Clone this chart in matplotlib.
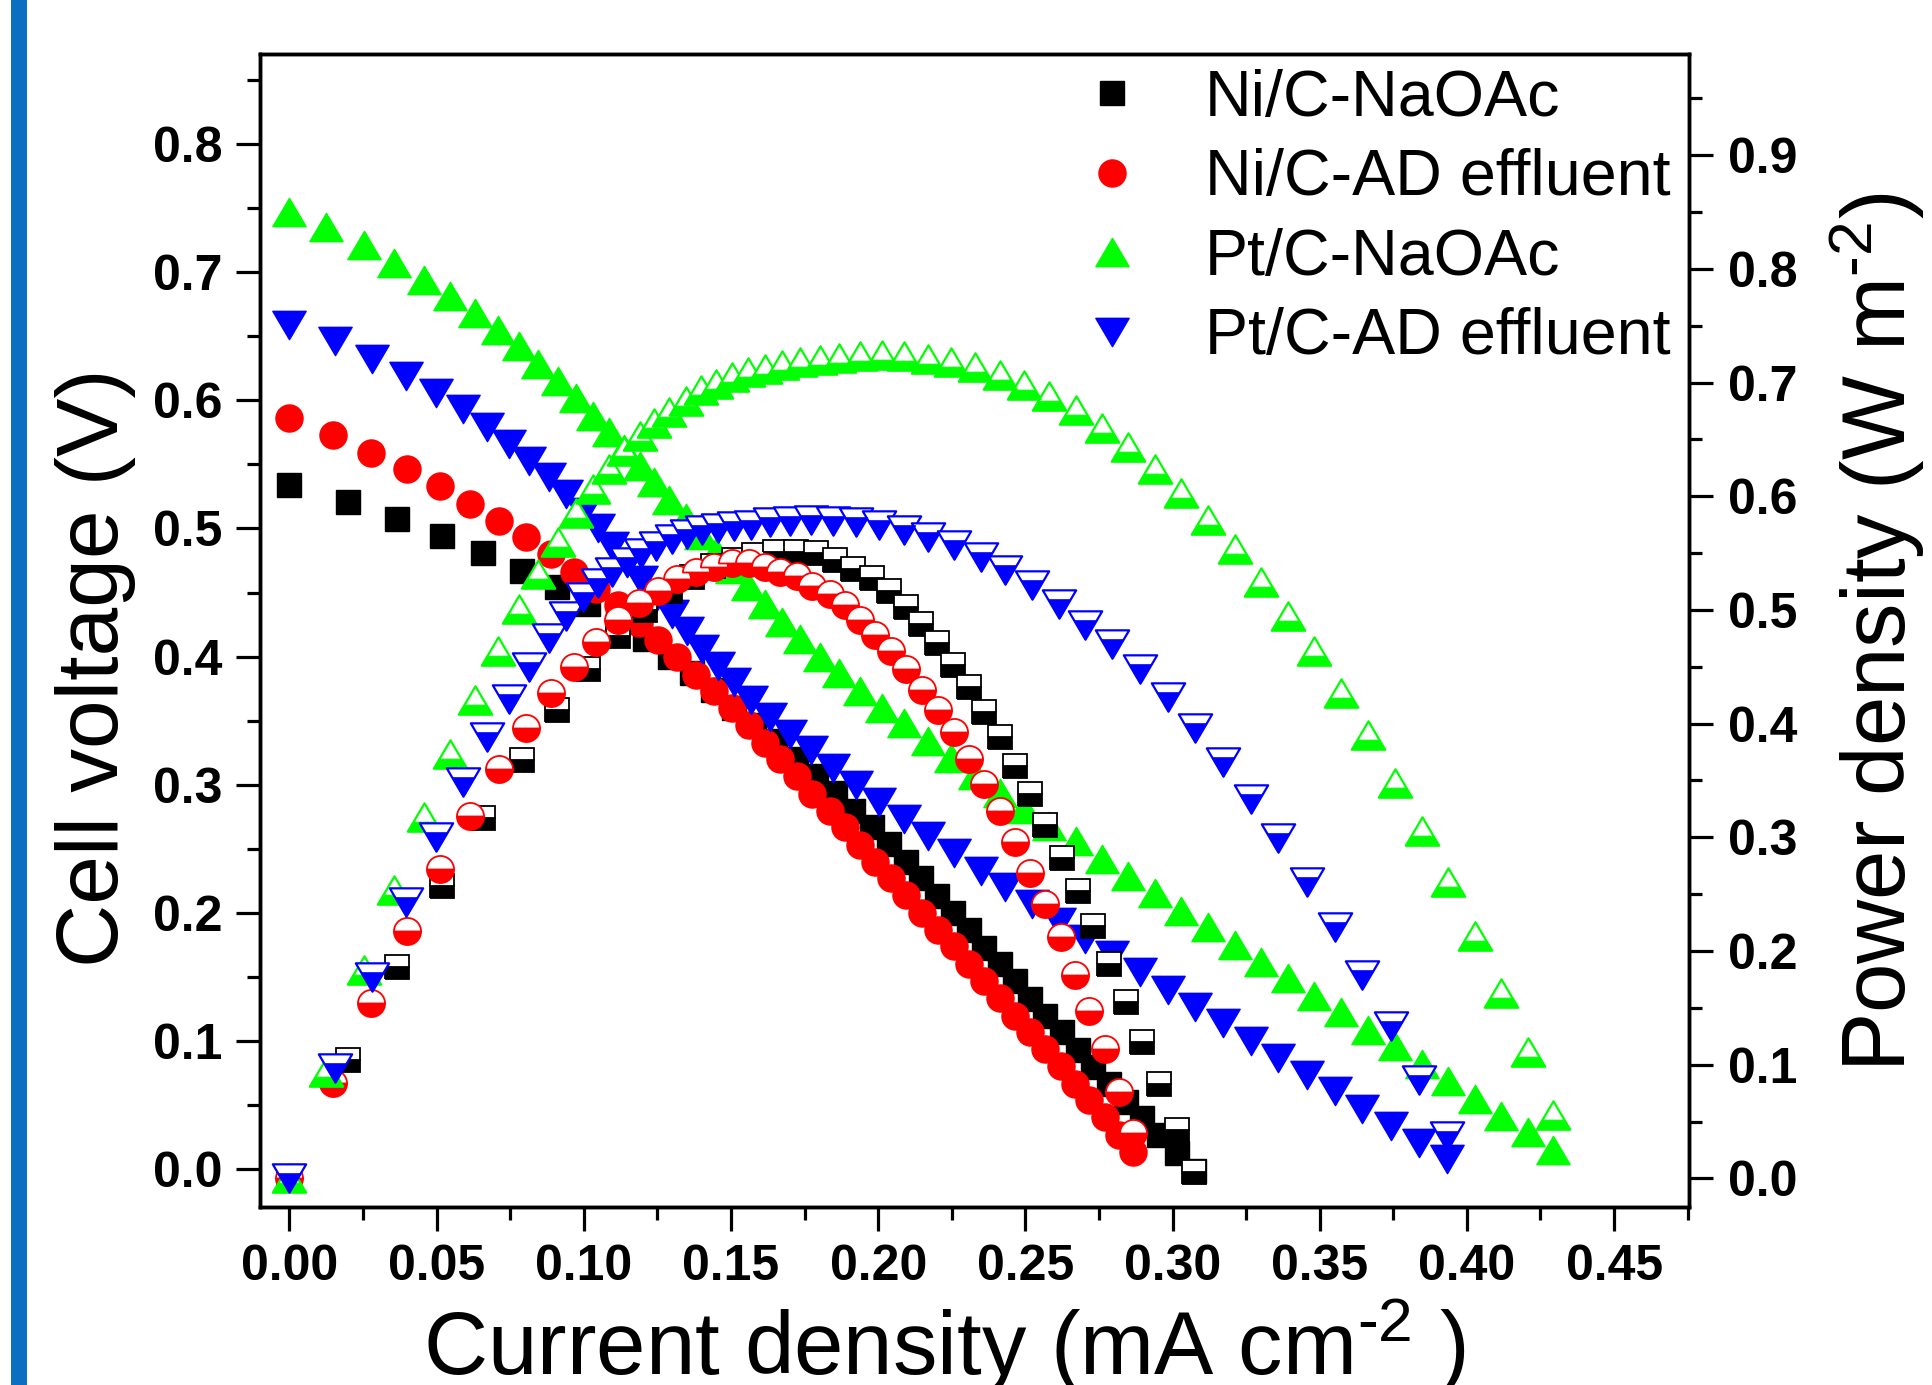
import matplotlib
matplotlib.use('Agg')
import matplotlib.pyplot as plt
from matplotlib.path import Path
from matplotlib.patches import Rectangle
from matplotlib.ticker import MultipleLocator, FormatStrFormatter

plt.rcParams['font.family'] = ['Liberation Sans', 'DejaVu Sans']
plt.rcParams['font.weight'] = 'normal'
plt.rcParams['mathtext.fontset'] = 'custom'
plt.rcParams['mathtext.rm'] = 'Liberation Sans'
plt.rcParams['mathtext.it'] = 'Liberation Sans:italic'
plt.rcParams['mathtext.bf'] = 'Liberation Sans:bold'

# ---------------- data ----------------
labels = ['Ni/C-NaOAc', 'Ni/C-AD effluent', 'Pt/C-NaOAc', 'Pt/C-AD effluent']
colors = ['#000000', '#ff0000', '#00ff00', '#0000ff']

# Ni/C-NaOAc
x_ni_na = [0.0000, 0.0199, 0.0367, 0.0520, 0.0659, 0.0789, 0.0908, 0.1016, 0.1116, 0.1207,
           0.1292, 0.1368, 0.1440, 0.1510, 0.1580, 0.1650, 0.1720, 0.1790, 0.1852, 0.1913,
           0.1978, 0.2036, 0.2095, 0.2147, 0.2199, 0.2253, 0.2309, 0.2361, 0.2413, 0.2465,
           0.2516, 0.2568, 0.2624, 0.2679, 0.2731, 0.2785, 0.2841, 0.2897, 0.2955, 0.3016, 0.3074]
v_ni_na = [0.534, 0.521, 0.507, 0.494, 0.481, 0.467, 0.454, 0.441, 0.427, 0.414,
           0.400, 0.387, 0.374, 0.360, 0.347, 0.334, 0.320, 0.307, 0.294, 0.280,
           0.267, 0.254, 0.240, 0.227, 0.213, 0.200, 0.187, 0.173, 0.160, 0.147,
           0.133, 0.120, 0.107, 0.093, 0.080, 0.067, 0.053, 0.040, 0.027, 0.013, -0.001]
p_ni_na = [0.000, 0.104, 0.186, 0.257, 0.317, 0.368, 0.412, 0.448, 0.477, 0.500,
           0.517, 0.529, 0.539, 0.544, 0.548, 0.551, 0.551, 0.550, 0.544, 0.536,
           0.528, 0.517, 0.503, 0.488, 0.471, 0.452, 0.432, 0.410, 0.388, 0.363,
           0.338, 0.311, 0.282, 0.253, 0.222, 0.189, 0.155, 0.120, 0.083, 0.043, 0.006]

# Ni/C-AD effluent
x_ni_ad = [0.0000, 0.0147, 0.0276, 0.0400, 0.0510, 0.0615, 0.0712, 0.0804, 0.0889, 0.0966,
           0.1042, 0.1116, 0.1187, 0.1252, 0.1317, 0.1382, 0.1443, 0.1503, 0.1560, 0.1615,
           0.1667, 0.1725, 0.1777, 0.1835, 0.1887, 0.1939, 0.1991, 0.2043, 0.2095, 0.2149,
           0.2205, 0.2257, 0.2309, 0.2361, 0.2413, 0.2464, 0.2516, 0.2568, 0.2620, 0.2669,
           0.2718, 0.2769, 0.2819, 0.2867]
v_ni_ad = [0.586, 0.573, 0.559, 0.546, 0.533, 0.519, 0.506, 0.493, 0.480, 0.466,
           0.453, 0.440, 0.426, 0.413, 0.400, 0.386, 0.373, 0.360, 0.347, 0.333,
           0.320, 0.307, 0.293, 0.280, 0.267, 0.253, 0.240, 0.227, 0.214, 0.200,
           0.187, 0.174, 0.160, 0.147, 0.134, 0.120, 0.107, 0.094, 0.081, 0.067,
           0.054, 0.041, 0.027, 0.014]
p_ni_ad = [0.000, 0.084, 0.154, 0.218, 0.272, 0.319, 0.360, 0.396, 0.427, 0.450,
           0.472, 0.491, 0.506, 0.517, 0.527, 0.533, 0.538, 0.541, 0.541, 0.538,
           0.533, 0.530, 0.521, 0.514, 0.504, 0.491, 0.478, 0.464, 0.448, 0.430,
           0.412, 0.393, 0.369, 0.347, 0.323, 0.296, 0.269, 0.241, 0.212, 0.179,
           0.147, 0.114, 0.076, 0.040]

# Pt/C-NaOAc
x_pt_na = [0.0000, 0.0126, 0.0253, 0.0357, 0.0457, 0.0547, 0.0630, 0.0709, 0.0781, 0.0846,
           0.0912, 0.0974, 0.1032, 0.1086, 0.1138, 0.1190, 0.1239, 0.1291, 0.1349, 0.1399,
           0.1450, 0.1505, 0.1557, 0.1615, 0.1674, 0.1736, 0.1801, 0.1868, 0.1939, 0.2014,
           0.2088, 0.2169, 0.2246, 0.2328, 0.2415, 0.2497, 0.2581, 0.2672, 0.2760, 0.2850,
           0.2940, 0.3029, 0.3120, 0.3211, 0.3301, 0.3392, 0.3482, 0.3574, 0.3665, 0.3755,
           0.3846, 0.3937, 0.4028, 0.4116, 0.4207, 0.4294]
v_pt_na = [0.747, 0.735, 0.721, 0.707, 0.694, 0.681, 0.668, 0.655, 0.642, 0.628,
           0.615, 0.602, 0.588, 0.575, 0.562, 0.549, 0.536, 0.522, 0.508, 0.495,
           0.482, 0.468, 0.455, 0.441, 0.427, 0.414, 0.400, 0.387, 0.373, 0.360,
           0.348, 0.334, 0.321, 0.308, 0.294, 0.281, 0.268, 0.256, 0.242, 0.229,
           0.216, 0.202, 0.189, 0.175, 0.162, 0.149, 0.135, 0.123, 0.109, 0.096,
           0.082, 0.069, 0.055, 0.042, 0.029, 0.015]
p_pt_na = [0.000, 0.094, 0.183, 0.254, 0.318, 0.373, 0.421, 0.464, 0.501, 0.532,
           0.560, 0.585, 0.606, 0.624, 0.640, 0.653, 0.664, 0.674, 0.684, 0.693,
           0.699, 0.705, 0.709, 0.712, 0.715, 0.718, 0.720, 0.722, 0.723, 0.724,
           0.723, 0.721, 0.718, 0.714, 0.707, 0.698, 0.688, 0.676, 0.660, 0.643,
           0.624, 0.603, 0.579, 0.554, 0.525, 0.495, 0.464, 0.427, 0.390, 0.348,
           0.306, 0.261, 0.213, 0.163, 0.111, 0.056]

# Pt/C-AD effluent
x_pt_ad = [0.0000, 0.0154, 0.0282, 0.0396, 0.0499, 0.0590, 0.0672, 0.0746, 0.0815, 0.0883,
           0.0941, 0.0996, 0.1048, 0.1096, 0.1146, 0.1196, 0.1247, 0.1299, 0.1351, 0.1403,
           0.1455, 0.1511, 0.1569, 0.1634, 0.1699, 0.1773, 0.1848, 0.1926, 0.2004, 0.2088,
           0.2169, 0.2257, 0.2348, 0.2432, 0.2523, 0.2614, 0.2704, 0.2796, 0.2890, 0.2984,
           0.3077, 0.3172, 0.3266, 0.3360, 0.3457, 0.3552, 0.3645, 0.3743, 0.3837, 0.3931]
v_pt_ad = [0.659, 0.646, 0.632, 0.619, 0.606, 0.593, 0.579, 0.566, 0.553, 0.540,
           0.527, 0.513, 0.500, 0.486, 0.473, 0.460, 0.446, 0.433, 0.420, 0.406,
           0.393, 0.380, 0.366, 0.353, 0.340, 0.327, 0.313, 0.300, 0.287, 0.273,
           0.260, 0.247, 0.233, 0.220, 0.207, 0.193, 0.180, 0.167, 0.154, 0.140,
           0.127, 0.114, 0.100, 0.087, 0.074, 0.061, 0.047, 0.034, 0.021, 0.008]
p_pt_ad = [0.000, 0.097, 0.177, 0.243, 0.300, 0.349, 0.388, 0.422, 0.450, 0.475,
           0.495, 0.511, 0.524, 0.533, 0.542, 0.550, 0.556, 0.562, 0.567, 0.570,
           0.572, 0.574, 0.575, 0.577, 0.578, 0.579, 0.578, 0.577, 0.575, 0.570,
           0.564, 0.557, 0.547, 0.535, 0.522, 0.505, 0.487, 0.470, 0.448, 0.423,
           0.396, 0.366, 0.334, 0.299, 0.261, 0.221, 0.179, 0.134, 0.087, 0.037]

xs = [x_ni_na, x_ni_ad, x_pt_na, x_pt_ad]
vs = [v_ni_na, v_ni_ad, v_pt_na, v_pt_ad]
ps = [p_ni_na, p_ni_ad, p_pt_na, p_pt_ad]

# ---------------- markers ----------------
H = 0.85
tri_up = Path([(-1, -H), (1, -H), (0, H), (-1, -H)],
              [Path.MOVETO, Path.LINETO, Path.LINETO, Path.CLOSEPOLY])
tri_dn = Path([(-1, H), (1, H), (0, -H), (-1, H)],
              [Path.MOVETO, Path.LINETO, Path.LINETO, Path.CLOSEPOLY])
yc = -H + 2 * H / 3.0
wc = (H - yc) / (2 * H)
tri_up_fill = Path([(-1, -H), (1, -H), (wc, yc), (-wc, yc), (-1, -H)],
                   [Path.MOVETO, Path.LINETO, Path.LINETO, Path.LINETO, Path.CLOSEPOLY])
yd = H - 2 * H / 3.0
tri_dn_fill = Path([(-wc, yd), (wc, yd), (0, -H), (-wc, yd)],
                   [Path.MOVETO, Path.LINETO, Path.LINETO, Path.CLOSEPOLY])

MS_SQ = 17
MS_CI = 19.5
MS_TR = 24

fig = plt.figure(figsize=(19.33, 13.85), dpi=100)
fig.patches.append(Rectangle((11 / 1933, 0), 16 / 1933, 1, transform=fig.transFigure,
                             facecolor='#0a6fc0', edgecolor='none'))
ax = fig.add_axes([0.1347, 0.1282, 0.7393, 0.8331])
ax2 = ax.twinx()

handles = []
specs = [('s', MS_SQ), ('o', MS_CI), (tri_up, MS_TR), (tri_dn, MS_TR)]
for i in range(4):
    m, ms = specs[i]
    h, = ax.plot(xs[i], vs[i], linestyle='none', marker=m, markersize=ms,
                 markerfacecolor=colors[i], markeredgecolor=colors[i], markeredgewidth=1.0,
                 label=labels[i])
    handles.append(h)

for i in range(2):
    m, ms = specs[i]
    ax2.plot(xs[i], ps[i], linestyle='none', marker=m, markersize=ms, fillstyle='bottom',
             markerfacecolor=colors[i], markerfacecoloralt='white',
             markeredgecolor=colors[i], markeredgewidth=1.3)
ax2.plot(xs[2], ps[2], linestyle='none', marker=tri_up, markersize=MS_TR,
         markerfacecolor='white', markeredgecolor=colors[2], markeredgewidth=1.6)
ax2.plot(xs[2], ps[2], linestyle='none', marker=tri_up_fill, markersize=MS_TR,
         markerfacecolor=colors[2], markeredgecolor=colors[2], markeredgewidth=0.8)
ax2.plot(xs[3], ps[3], linestyle='none', marker=tri_dn, markersize=MS_TR,
         markerfacecolor='white', markeredgecolor=colors[3], markeredgewidth=1.6)
ax2.plot(xs[3], ps[3], linestyle='none', marker=tri_dn_fill, markersize=MS_TR * H,
         markerfacecolor=colors[3], markeredgecolor=colors[3], markeredgewidth=0.8)

ax.set_xlim(-0.00985, 0.4756)
ax.set_ylim(-0.0296, 0.8704)
ax2.set_ylim(-0.0255, 0.9893)

ax.xaxis.set_major_locator(MultipleLocator(0.05))
ax.xaxis.set_minor_locator(MultipleLocator(0.025))
ax.xaxis.set_major_formatter(FormatStrFormatter('%.2f'))
ax.yaxis.set_major_locator(MultipleLocator(0.1))
ax.yaxis.set_minor_locator(MultipleLocator(0.05))
ax.yaxis.set_major_formatter(FormatStrFormatter('%.1f'))
ax2.yaxis.set_major_locator(MultipleLocator(0.1))
ax2.yaxis.set_minor_locator(MultipleLocator(0.05))
ax2.yaxis.set_major_formatter(FormatStrFormatter('%.1f'))

for a in (ax, ax2):
    for s in a.spines.values():
        s.set_linewidth(2.5)
ax.tick_params(axis='both', which='major', direction='out', length=17.5, width=2.3,
               labelsize=36, top=False, right=False)
ax.tick_params(axis='both', which='minor', direction='out', length=9.5, width=2.3,
               top=False, right=False)
ax.tick_params(axis='y', which='major', pad=10)
ax.tick_params(axis='x', which='major', pad=9)
ax2.tick_params(axis='y', which='major', direction='out', length=17.5, width=2.3,
                labelsize=36, pad=10)
ax2.tick_params(axis='y', which='minor', direction='out', length=9.5, width=2.3)

plt.setp(ax.get_xticklabels(), fontweight='bold')
plt.setp(ax.get_yticklabels(), fontweight='bold')
plt.setp(ax2.get_yticklabels(), fontweight='bold')

fig.text(0.061, 0.518, 'Cell voltage (V)', rotation=90, rotation_mode='anchor',
         ha='center', va='baseline', fontsize=63, fontweight='normal')
fig.text(0.4886, 0.0072, 'Current density (mA cm$^{\\text{-2}}$ )', ha='center',
         va='baseline', fontsize=64, fontweight='normal')
fig.text(0.986, 0.5437, 'Power density (W m$^{\\text{-2}}$)', rotation=90,
         rotation_mode='anchor', ha='center', va='baseline', fontsize=64,
         fontweight='normal')

leg = ax2.legend(handles, labels, loc='upper left',
                 bbox_to_anchor=(1080 / 1933, 1 - 69 / 1385),
                 bbox_transform=fig.transFigure, frameon=False, borderpad=0,
                 borderaxespad=0, handlelength=1.0, handletextpad=0.93,
                 labelspacing=0.3, prop={'size': 46.5, 'weight': 'normal'})

fig.savefig('out.png', dpi=100)
